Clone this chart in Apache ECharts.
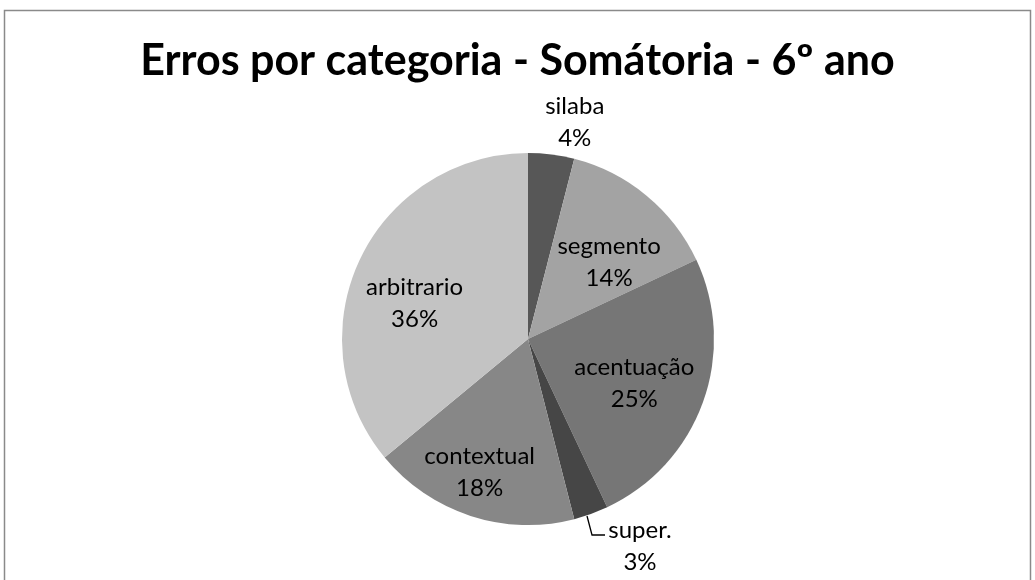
<!DOCTYPE html>
<html>
<head>
<meta charset="utf-8">
<script src="https://cdn.jsdelivr.net/npm/echarts@6/dist/echarts.min.js"></script>
<style>
  html, body { margin: 0; padding: 0; background: #fff; }
  #chart { width: 1035px; height: 580px; }
</style>
</head>
<body>
<div id="chart"></div>
<script>
var categories = ['silaba', 'segmento', 'acentuação', 'super.', 'contextual', 'arbitrario'];
var values = [4, 14, 25, 3, 18, 36];
var colors = ['#575757', '#a3a3a3', '#767676', '#464646', '#878787', '#c3c3c3'];

// label placement: [share of radius, turn from the slice bisector in degrees]
var labelPlace = {
  'silaba': [1.19, 5],
  'segmento': [0.6, 7],
  'acentuação': [0.62, 3],
  'contextual': [0.76, 2],
  'arbitrario': [0.64, -7.5]
};

var cx = 528, cy = 339, R = 186;
var total = values.reduce(function (a, b) { return a + b; }, 0);

function midAngle(i) {
  var before = 0;
  for (var k = 0; k < i; k++) before += values[k];
  return (before + values[i] / 2) / total * Math.PI * 2;
}

var chartDom = document.getElementById('chart');
var myChart = echarts.init(chartDom);

var option = {
  backgroundColor: '#fff',
  animation: false,
  title: {
    text: 'Erros por categoria - Somátoria - 6º ano',
    left: 'center',
    top: 35,
    textStyle: { fontFamily: 'Lato', fontWeight: 'bold', fontSize: 43, color: '#000' }
  },
  graphic: [{
    type: 'rect',
    shape: { x: 4.5, y: 10.5, width: 1026, height: 600 },
    style: { fill: 'none', stroke: '#8a8a8a', lineWidth: 1.5 },
    silent: true
  }],
  series: [{
    type: 'pie',
    center: [cx, cy],
    radius: R,
    startAngle: 90,
    clockwise: true,
    data: categories.map(function (c, i) {
      var outside = (c === 'super.' || c === 'silaba');
      return {
        name: c,
        value: values[i],
        itemStyle: { color: colors[i] },
        label: { position: outside ? 'outside' : 'inside' },
        labelLine: { show: c === 'super.', lineStyle: { color: '#000', width: 1.3 } }
      };
    }),
    label: {
      show: true,
      formatter: function (p) { return p.name + '\n' + Math.round(p.percent) + '%'; },
      fontFamily: 'Lato',
      fontSize: 24,
      lineHeight: 32,
      color: '#000',
      align: 'center'
    },
    labelLine: { show: false },
    labelLayout: function (params) {
      var i = params.dataIndex;
      var name = categories[i];
      var a = midAngle(i);
      if (name === 'super.') {
        var ex = cx + R * Math.sin(a), ey = cy - R * Math.cos(a);
        return {
          x: ex + 49, y: ey + 32, align: 'center', verticalAlign: 'middle',
          labelLinePoints: [[ex - 4, ey + 2], [ex + 1, ey + 21], [ex + 14, ey + 21]]
        };
      }
      var place = labelPlace[name];
      var t = a + place[1] * Math.PI / 180;
      return {
        x: cx + place[0] * R * Math.sin(t),
        y: cy - place[0] * R * Math.cos(t),
        align: 'center',
        verticalAlign: 'middle'
      };
    }
  }]
};

option && myChart.setOption(option);
window.addEventListener('resize', function () { myChart.resize(); });
</script>
</body>
</html>
